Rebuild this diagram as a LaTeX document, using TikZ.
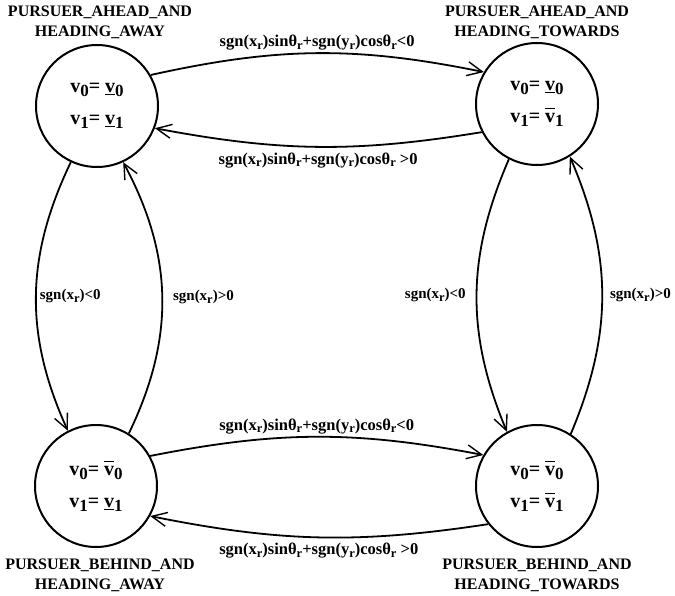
\documentclass[tikz,border=0pt]{standalone}
\usepackage{fontspec}
\setmainfont{Liberation Serif}
\usetikzlibrary{arrows.meta}
% lowered subscripts
\newcommand{\sbs}[1]{\raisebox{-0.45ex}{\fontsize{17}{17}\selectfont #1}}
\newcommand{\rsb}{\raisebox{-0.35ex}{\fontsize{12.5}{12.5}\selectfont r}}
% overlined letter in text, with a little air above the letter
\newcommand{\ovl}[1]{$\overline{\hbox{\rule{0pt}{1.45ex}#1}}$}
\begin{document}
\begin{tikzpicture}[x=1pt,y=1pt,
  state/.style={circle, draw, line width=2pt, minimum size=122pt, inner sep=0pt,
    align=center, font=\bfseries\fontsize{20}{32}\selectfont},
  title/.style={align=center, font=\bfseries\fontsize{16}{20}\selectfont},
  lab/.style={font=\bfseries\fontsize{16.5}{16.5}\selectfont, inner sep=2pt},
  vlab/.style={font=\bfseries\fontsize{15}{15}\selectfont, inner sep=2pt},
  trans/.style={line width=1.8pt, -{Straight Barb[length=15pt,width=14pt,line width=1.4pt]}}]
\useasboundingbox (0,0) rectangle (675,-596);

% states
\node[state] (aa) at (97,-106)  {v\sbs{0}= \underline{v}\sbs{0}\\v\sbs{1}= \underline{v}\sbs{1}};
\node[state] (at) at (537,-104) {v\sbs{0}= \underline{v}\sbs{0}\\v\sbs{1}= \ovl{v}\sbs{1}};
\node[state] (ba) at (96,-486)  {v\sbs{0}= \ovl{v}\sbs{0}\\v\sbs{1}= \underline{v}\sbs{1}};
\node[state] (bt) at (537,-486) {v\sbs{0}= \ovl{v}\sbs{0}\\v\sbs{1}= \ovl{v}\sbs{1}};

% state names
\node[title] (naa) at (100,-22) {PURSUER\_AHEAD\_AND\\HEADING\_AWAY};
\node[title] (nat) at (537,-22) {PURSUER\_AHEAD\_AND\\HEADING\_TOWARDS};
\node[title] (nba) at (100,-575) {PURSUER\_BEHIND\_AND\\HEADING\_AWAY};
\node[title] (nbt) at (537,-575) {PURSUER\_BEHIND\_AND\\HEADING\_TOWARDS};

% horizontal transitions
\draw[trans] (aa.30) to[bend left=12]
  node[lab, above] {sgn(x\rsb)sinθ\rsb+sgn(y\rsb)cosθ\rsb<0} (at.149);
\draw[trans] (at.207) to[bend left=10]
  node[lab, below=3pt] {sgn(x\rsb)sinθ\rsb+sgn(y\rsb)cosθ\rsb\ >0} (aa.339);
\draw[trans] (ba.29) to[bend left=11]
  node[lab, above] {sgn(x\rsb)sinθ\rsb+sgn(y\rsb)cosθ\rsb<0} (bt.150);
\draw[trans] (bt.218) to[bend left=10]
  node[lab, below=3pt] {sgn(x\rsb)sinθ\rsb+sgn(y\rsb)cosθ\rsb\ >0} (ba.331);

% vertical transitions
\draw[trans] (aa.245) to[bend right=25]
  node[vlab, right=1pt] {sgn(x\rsb)<0} (ba.117);
\draw[trans] (ba.58) to[bend right=27]
  node[vlab, right=8pt] {sgn(x\rsb)>0} (aa.295);
\draw[trans] (at.243) to[bend right=23]
  node[vlab, left=8pt] {sgn(x\rsb)<0} (bt.119);
\draw[trans] (bt.57) to[bend right=23]
  node[vlab, right=5pt] {sgn(x\rsb)>0} (at.302);
\end{tikzpicture}
\end{document}
